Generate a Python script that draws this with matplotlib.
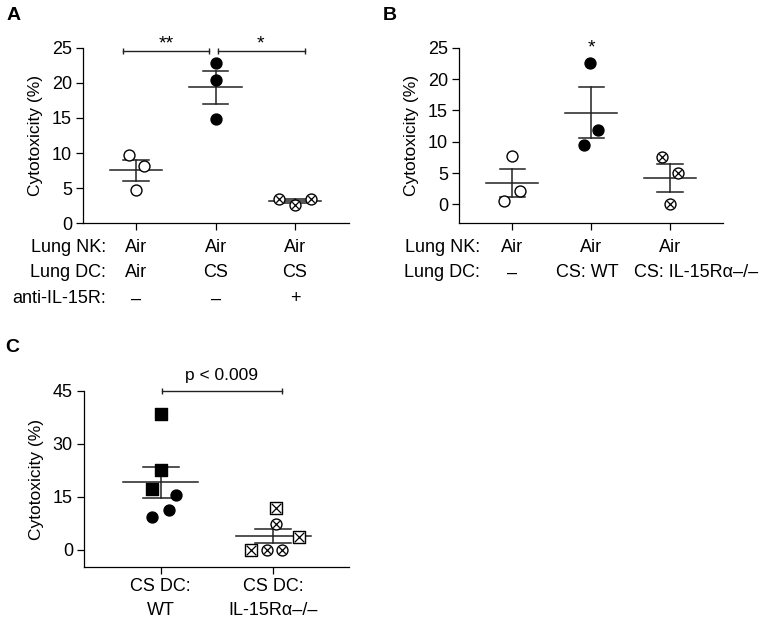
import numpy as np
import matplotlib
matplotlib.use("Agg")
import matplotlib.pyplot as plt

plt.rcParams["font.family"] = ["Liberation Sans", "DejaVu Sans"]
plt.rcParams["font.size"] = 10.5

# panel A data
a_air = [9.7, 8.1, 4.8]
a_cs = [22.8, 20.4, 14.9]
a_anti = [3.5, 2.6, 3.5]

# panel B data
b_air = [7.8, 0.5, 2.1]
b_wt = [22.6, 11.8, 9.5]
b_ko = [7.5, 5.1, 0.0]

# panel C data
c_wt_sq = [38.4, 22.5, 17.2]
c_wt_ci = [15.4, 11.3, 9.3]
c_ko_sq = [11.9, 3.6, 0.0]
c_ko_ci = [7.3, 0.0, 0.0]

# horizontal jitter of the dots
jit_a = [[-0.09, 0.1, 0.0], [0.01, 0.01, 0.01], [-0.2, 0.0, 0.2]]
jit_b = [[0.0, -0.11, 0.1], [-0.01, 0.09, -0.09], [-0.1, 0.1, 0.0]]
jit_c_wt = [[0.0, 0.0, -0.08], [0.14, 0.07, -0.08]]
jit_c_ko = [[0.02, 0.23, -0.2], [0.02, -0.06, 0.08]]

fig = plt.figure(figsize=(7.65, 6.21), dpi=100)


def style(ax, yticks, ylim, xlim, ncat):
    ax.set_ylim(*ylim)
    ax.set_xlim(*xlim)
    ax.set_yticks(yticks)
    ax.set_xticks(range(ncat))
    ax.set_xticklabels([])
    ax.spines["top"].set_visible(False)
    ax.spines["right"].set_visible(False)
    ax.spines["left"].set_bounds(ylim[0], yticks[-1])
    for s in ["left", "bottom"]:
        ax.spines[s].set_linewidth(0.9)
    ax.tick_params(direction="out", length=5, width=0.9, labelsize=13, pad=3)
    ax.set_ylabel("Cytotoxicity (%)", fontsize=12.5, labelpad=6)
    ax.patch.set_visible(False)


def mean_sem(ax, x, vals):
    v = np.array(vals)
    m = v.mean()
    se = v.std(ddof=1) / np.sqrt(len(v))
    ax.plot([x - 0.33, x + 0.33], [m, m], color="#222222", lw=1.1, zorder=1)
    ax.plot([x - 0.16, x + 0.16], [m + se, m + se], color="#222222", lw=1.1, zorder=1)
    ax.plot([x - 0.16, x + 0.16], [m - se, m - se], color="#222222", lw=1.1, zorder=1)
    ax.plot([x, x], [m - se, m + se], color="#222222", lw=1.1, zorder=1)


def dots(ax, x, vals, jit, kind):
    xs = [x + j for j in jit]
    if kind == "open":
        ax.scatter(xs, vals, s=62, facecolor="white", edgecolor="black", lw=1.0, zorder=3)
    elif kind == "filled":
        ax.scatter(xs, vals, s=62, facecolor="black", edgecolor="black", lw=1.0, zorder=3)
    elif kind == "cross":
        ax.scatter(xs, vals, s=62, facecolor="white", edgecolor="black", lw=1.0, zorder=3)
        ax.scatter(xs, vals, s=22, marker="x", color="black", lw=0.9, zorder=4)
    elif kind == "square":
        ax.scatter(xs, vals, s=70, marker="s", facecolor="black", edgecolor="black", lw=1.0, zorder=3)
    elif kind == "xsquare":
        ax.scatter(xs, vals, s=70, marker="s", facecolor="white", edgecolor="black", lw=1.0, zorder=3)
        ax.scatter(xs, vals, s=48, marker="x", color="black", lw=0.9, zorder=4)


def bracket(ax, x0, x1, y):
    ax.plot([x0, x1], [y, y], color="#222222", lw=1.0, clip_on=False,
            marker="|", markersize=5, markeredgewidth=1.0)


# ---- panel A
ax = fig.add_axes([83 / 765, 1 - 223.3 / 621, 266 / 765, 175.6 / 621])
style(ax, [0, 5, 10, 15, 20, 25], (0, 25), (-0.67, 2.68), 3)
for i, (vals, kind) in enumerate([(a_air, "open"), (a_cs, "filled"), (a_anti, "cross")]):
    mean_sem(ax, i, vals)
    dots(ax, i, vals, jit_a[i], kind)
bracket(ax, -0.16, 0.92, 24.5)
bracket(ax, 1.03, 2.12, 24.5)
ax.text(0.38, 24.9, "**", ha="center", va="baseline", fontsize=14, clip_on=False)
ax.text(1.57, 24.9, "*", ha="center", va="baseline", fontsize=14, clip_on=False)
tr = ax.get_xaxis_transform()
rows_a = [("Lung NK:", ["Air", "Air", "Air"]),
          ("Lung DC:", ["Air", "CS", "CS"]),
          ("anti-IL-15R:", ["\u2013", "\u2013", "+"])]
for r, (lab, vals) in enumerate(rows_a):
    yy = -0.135 - 0.148 * r
    ax.text(0.087, yy, lab, transform=ax.transAxes, ha="right", va="center", fontsize=13)
    for i, v in enumerate(vals):
        ax.text(i, yy, v, transform=tr, ha="center", va="center", fontsize=13)
fig.text(7 / 765, 1 - 15 / 621, "A", fontsize=14, fontweight="bold", va="center")

# ---- panel B
ax = fig.add_axes([459 / 765, 1 - 223.3 / 621, 264 / 765, 175.6 / 621])
style(ax, [0, 5, 10, 15, 20, 25], (-3, 25), (-0.675, 2.67), 3)
for i, (vals, kind) in enumerate([(b_air, "open"), (b_wt, "filled"), (b_ko, "cross")]):
    mean_sem(ax, i, vals)
    dots(ax, i, vals, jit_b[i], kind)
ax.text(1.0, 24.3, "*", ha="center", va="baseline", fontsize=14, clip_on=False)
tr = ax.get_xaxis_transform()
ax.text(0.08, -0.135, "Lung NK:", transform=ax.transAxes, ha="right", va="center", fontsize=13)
ax.text(0.08, -0.283, "Lung DC:", transform=ax.transAxes, ha="right", va="center", fontsize=13)
for i in range(3):
    ax.text(i, -0.135, "Air", transform=tr, ha="center", va="center", fontsize=13)
ax.text(0, -0.283, "\u2013", transform=tr, ha="center", va="center", fontsize=13)
ax.text(0.95, -0.283, "CS: WT", transform=tr, ha="center", va="center", fontsize=13)
ax.text(1.135, -0.283, "CS: IL-15R\u03b1\u2013/\u2013", transform=ax.transAxes,
        ha="right", va="center", fontsize=13)
fig.text(383 / 765, 1 - 15 / 621, "B", fontsize=14, fontweight="bold", va="center")

# ---- panel C
ax = fig.add_axes([84 / 765, 1 - 567.3 / 621, 265 / 765, 176.6 / 621])
style(ax, [0, 15, 30, 45], (-5, 45), (-0.68, 1.67), 2)
mean_sem(ax, 0, c_wt_sq + c_wt_ci)
mean_sem(ax, 1, c_ko_sq + c_ko_ci)
dots(ax, 0, c_wt_sq, jit_c_wt[0], "square")
dots(ax, 0, c_wt_ci, jit_c_wt[1], "filled")
dots(ax, 1, c_ko_sq, jit_c_ko[0], "xsquare")
dots(ax, 1, c_ko_ci, jit_c_ko[1], "cross")
bracket(ax, 0.01, 1.08, 45)
ax.text(0.54, 47.3, "p < 0.009", ha="center", va="bottom", fontsize=12.5, clip_on=False)
tr = ax.get_xaxis_transform()
for i, (l1, l2) in enumerate([("CS DC:", "WT"), ("CS DC:", "IL-15R\u03b1\u2013/\u2013")]):
    ax.text(i, -0.11, l1, transform=tr, ha="center", va="center", fontsize=13)
    ax.text(i, -0.243, l2, transform=tr, ha="center", va="center", fontsize=13)
fig.text(5 / 765, 1 - 347 / 621, "C", fontsize=14, fontweight="bold", va="center")

plt.savefig("out.png", dpi=100)
plt.close(fig)
